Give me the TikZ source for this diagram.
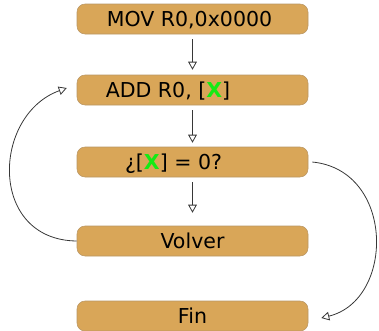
\documentclass[tikz,border=0pt]{standalone}
\usepackage{fontspec}
\setmainfont{DejaVu Sans}
\usepackage{xcolor}
\usepackage{tikz}
\usetikzlibrary{arrows.meta, positioning, calc}

\definecolor{naranja}{RGB}{217,166,88}
\definecolor{borde}{RGB}{185,150,100}
\definecolor{verde}{RGB}{20,235,20}
\definecolor{linea}{RGB}{55,55,55}

\begin{document}
\begin{tikzpicture}[x=0.75pt, y=-0.75pt,
  caja/.style={draw=borde, fill=naranja, rounded corners=6pt,
    minimum width=173.25pt, minimum height=22.5pt, inner sep=0pt,
    text height=11.2pt, text depth=0pt, font=\fontsize{15.4}{18}\selectfont},
  flecha/.style={draw=linea, line width=0.6pt,
    -{Triangle[open, length=6pt, width=6.5pt]}}]
  \useasboundingbox (0,0) rectangle (379,330);

  % Boxes of the loop
  \node[caja] (mov) at (192.5,19) {MOV R0,0x0000\kern4.5pt};
  \node[caja] (add) at (192.5,90) {ADD R0, [\textbf{\textcolor{verde}{X}}]\kern36.75pt};
  \node[caja] (cond) at (192.5,162) {¿[\textbf{\textcolor{verde}{X}}] = 0?\kern28.5pt};
  \node[caja] (volver) at (192.5,241) {Volver};
  \node[caja] (fin) at (192.5,316) {Fin};

  % Straight arrows
  \draw[flecha, shorten <=3.75pt, shorten >=3.75pt] (mov) -- (add);
  \draw[flecha, shorten <=3.75pt, shorten >=3pt] (add) -- (cond);
  \draw[flecha, shorten <=3.75pt, shorten >=9.75pt] (cond) -- (volver);

  % Back to ADD
  \coordinate (regreso) at ($(add.west)+(-10,-2)$);
  \draw[flecha] (volver.west) .. controls (-12,240) and (-8,115) .. (regreso);

  % Exit to Fin
  \coordinate (salida) at ($(cond.east)+(4,0)$);
  \coordinate (llegada) at ($(fin.east)+(13,2)$);
  \draw[flecha] (salida) .. controls (395,170) and (395,300) .. (llegada);
\end{tikzpicture}
\end{document}
